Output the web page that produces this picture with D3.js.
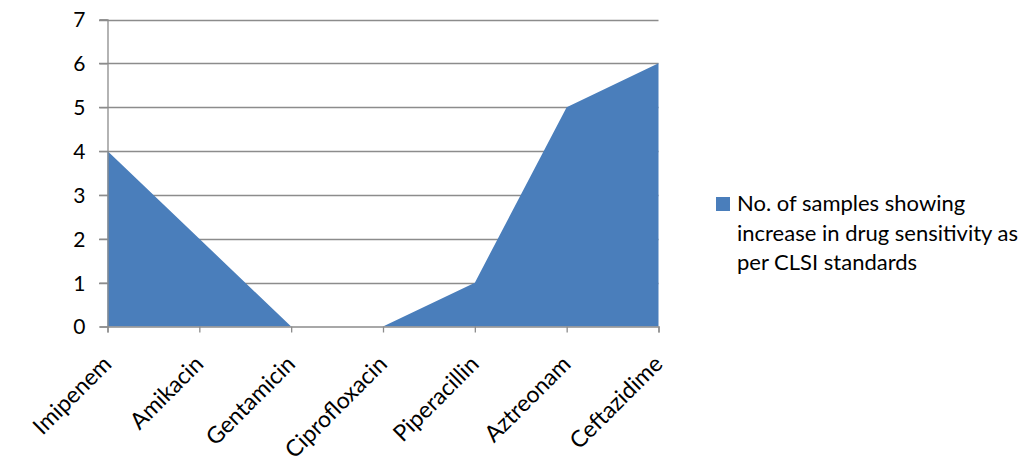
<!DOCTYPE html>
<html><head><meta charset="utf-8">
<script src="https://cdn.jsdelivr.net/npm/d3@7"></script>
<style>body{margin:0;background:#fff}svg{display:block}text{font-family:Lato,"Open Sans",sans-serif;fill:#000}</style>
</head><body>
<script>
const categories=["Imipenem","Amikacin","Gentamicin","Ciprofloxacin","Piperacillin","Aztreonam","Ceftazidime"];
const values=[4,2,0,0,1,5,6];
const yTicks=[0,1,2,3,4,5,6,7];
const seriesName=["No. of samples showing","increase in drug sensitivity as","per CLSI standards"];

const W=1024,H=469;
const svg=d3.select("body").append("svg").attr("width",W).attr("height",H);
const x=d3.scalePoint().domain(categories).range([107.5,658.5]).padding(0);
const y=d3.scaleLinear().domain([0,7]).range([326.5,19.5]);

// gridlines
svg.append("g").selectAll("line").data(yTicks.filter(d=>d>0)).join("line")
 .attr("x1",99).attr("x2",658.5).attr("y1",d=>Math.round(y(d))+0.5).attr("y2",d=>Math.round(y(d))+0.5)
 .attr("stroke","#8c8c8c").attr("stroke-width",1.3);

// area
const area=d3.area().x((d,i)=>x(categories[i])).y0(y(0)).y1(d=>y(d));
svg.append("path").datum(values).attr("d",area).attr("fill","#4a7ebb");

// y axis
const ya=svg.append("g").attr("transform","translate(107.5,0)")
 .call(d3.axisLeft(y).tickValues(yTicks).tickSize(8).tickPadding(14).tickFormat(d3.format("d")));
ya.select(".domain").attr("stroke","#8c8c8c").attr("stroke-width",1.3);
ya.selectAll(".tick line").attr("stroke","#8c8c8c").attr("stroke-width",1.3);
ya.selectAll(".tick text").attr("font-size",21).attr("font-family","Lato").attr("fill","#000").attr("dy","0.35em");

// x axis
const xa=svg.append("g").attr("transform","translate(0,326.5)")
 .call(d3.axisBottom(x).tickSize(6).tickPadding(8));
xa.select(".domain").attr("stroke","#8c8c8c").attr("stroke-width",1.3);
xa.selectAll(".tick line").attr("stroke","#8c8c8c").attr("stroke-width",1.3);
xa.selectAll(".tick text").attr("font-size",23).attr("font-family","Lato").attr("fill","#000")
 .attr("text-anchor","end").attr("dy",0).attr("y",0)
 .attr("transform","translate(5,39) rotate(-45)");

// legend
const lg=svg.append("g");
lg.append("rect").attr("x",716).attr("y",197).attr("width",14).attr("height",14).attr("fill","#4a7ebb");
lg.selectAll("text").data(seriesName).join("text")
 .attr("x",737).attr("y",(d,i)=>211+i*29.5).attr("font-size",22).text(d=>d);
</script>
</body></html>
